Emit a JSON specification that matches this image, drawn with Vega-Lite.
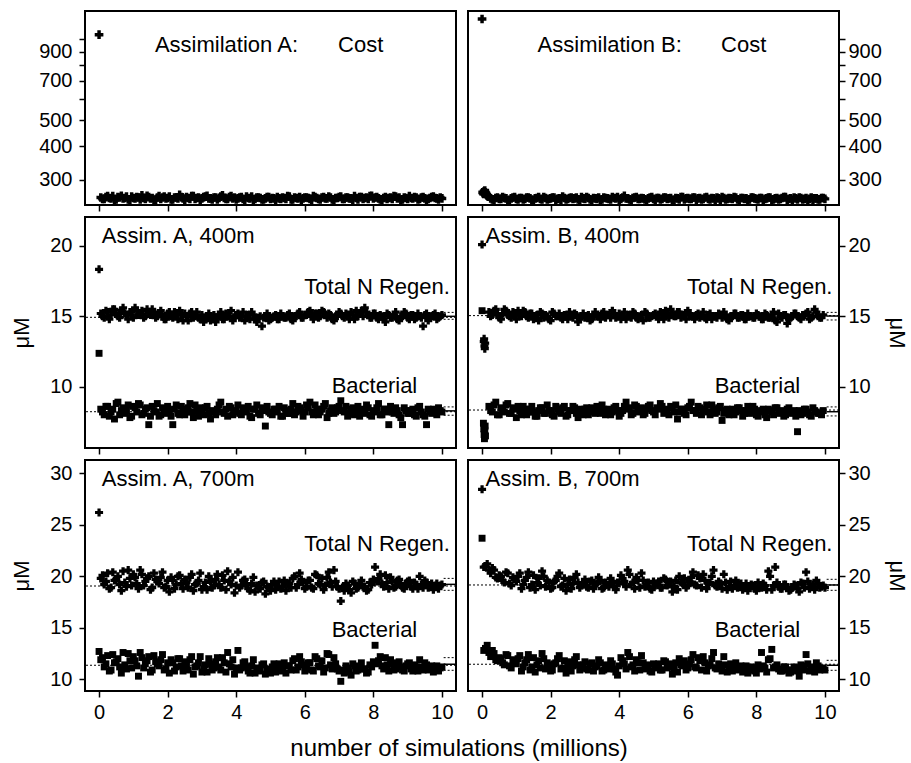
{
"$schema": "https://vega.github.io/schema/vega-lite/v6.json",
"padding": {"left": 9, "top": 10, "right": 0, "bottom": 0},
"background": "white",
"title": {"text": "number of simulations (millions)", "orient": "bottom", "anchor": "middle", "font": "Liberation Sans", "fontSize": 24, "fontWeight": "normal", "color": "black", "offset": 14},
"columns": 2,
"spacing": {"row": 3, "column": 8},
"datasets": {
"ca": [{"x":0,"y":1040},
{"x":0.05,"y":258},{"x":0.15,"y":255},{"x":0.25,"y":261},{"x":0.35,"y":256},{"x":0.45,"y":253},{"x":0.55,"y":259},{"x":0.65,"y":262},{"x":0.75,"y":257},{"x":0.85,"y":254},{"x":0.95,"y":260},
{"x":1.05,"y":256},{"x":1.15,"y":258},{"x":1.25,"y":263},{"x":1.35,"y":255},{"x":1.45,"y":259},{"x":1.55,"y":257},{"x":1.65,"y":253},{"x":1.75,"y":261},{"x":1.85,"y":258},{"x":1.95,"y":256},
{"x":2.05,"y":260},{"x":2.15,"y":254},{"x":2.25,"y":258},{"x":2.35,"y":264},{"x":2.45,"y":256},{"x":2.55,"y":259},{"x":2.65,"y":255},{"x":2.75,"y":261},{"x":2.85,"y":257},{"x":2.95,"y":253},
{"x":3.05,"y":259},{"x":3.15,"y":262},{"x":3.25,"y":256},{"x":3.35,"y":258},{"x":3.45,"y":254},{"x":3.55,"y":260},{"x":3.65,"y":257},{"x":3.75,"y":255},{"x":3.85,"y":261},{"x":3.95,"y":258},
{"x":4.05,"y":256},{"x":4.15,"y":259},{"x":4.25,"y":253},{"x":4.35,"y":257},{"x":4.45,"y":260},{"x":4.55,"y":255},{"x":4.65,"y":258},{"x":4.75,"y":254},{"x":4.85,"y":256},{"x":4.95,"y":259},
{"x":5.05,"y":257},{"x":5.15,"y":253},{"x":5.25,"y":256},{"x":5.35,"y":258},{"x":5.45,"y":255},{"x":5.55,"y":260},{"x":5.65,"y":254},{"x":5.75,"y":257},{"x":5.85,"y":259},{"x":5.95,"y":256},
{"x":6.05,"y":258},{"x":6.15,"y":255},{"x":6.25,"y":261},{"x":6.35,"y":257},{"x":6.45,"y":254},{"x":6.55,"y":259},{"x":6.65,"y":256},{"x":6.75,"y":258},{"x":6.85,"y":253},{"x":6.95,"y":257},
{"x":7.05,"y":260},{"x":7.15,"y":255},{"x":7.25,"y":258},{"x":7.35,"y":256},{"x":7.45,"y":261},{"x":7.55,"y":254},{"x":7.65,"y":259},{"x":7.75,"y":257},{"x":7.85,"y":255},{"x":7.95,"y":262},
{"x":8.05,"y":258},{"x":8.15,"y":256},{"x":8.25,"y":253},{"x":8.35,"y":259},{"x":8.45,"y":257},{"x":8.55,"y":255},{"x":8.65,"y":260},{"x":8.75,"y":258},{"x":8.85,"y":254},{"x":8.95,"y":257},
{"x":9.05,"y":261},{"x":9.15,"y":256},{"x":9.25,"y":258},{"x":9.35,"y":255},{"x":9.45,"y":259},{"x":9.55,"y":253},{"x":9.65,"y":257},{"x":9.75,"y":260},{"x":9.85,"y":256},{"x":9.95,"y":258},
{"x":0.1,"y":255},{"x":0.2,"y":259},{"x":0.3,"y":257},{"x":0.4,"y":261},{"x":0.5,"y":254},{"x":0.6,"y":258},{"x":0.7,"y":256},{"x":0.8,"y":260},{"x":0.9,"y":253},{"x":1.0,"y":257},
{"x":1.1,"y":259},{"x":1.2,"y":254},{"x":1.3,"y":257},{"x":1.4,"y":262},{"x":1.5,"y":256},{"x":1.6,"y":253},{"x":1.7,"y":258},{"x":1.8,"y":255},{"x":1.9,"y":260},{"x":2.0,"y":257},
{"x":2.1,"y":254},{"x":2.2,"y":258},{"x":2.3,"y":256},{"x":2.4,"y":259},{"x":2.5,"y":253},{"x":2.6,"y":257},{"x":2.7,"y":261},{"x":2.8,"y":255},{"x":2.9,"y":258},{"x":3.0,"y":256},
{"x":3.1,"y":260},{"x":3.2,"y":256},{"x":3.3,"y":254},{"x":3.4,"y":258},{"x":3.5,"y":257},{"x":3.6,"y":263},{"x":3.7,"y":255},{"x":3.8,"y":259},{"x":3.9,"y":256},{"x":4.0,"y":254},
{"x":4.1,"y":258},{"x":4.2,"y":255},{"x":4.3,"y":260},{"x":4.4,"y":256},{"x":4.5,"y":253},{"x":4.6,"y":258},{"x":4.7,"y":257},{"x":4.8,"y":254},{"x":4.9,"y":259},{"x":5.0,"y":255},
{"x":5.1,"y":256},{"x":5.2,"y":259},{"x":5.3,"y":255},{"x":5.4,"y":257},{"x":5.5,"y":261},{"x":5.6,"y":254},{"x":5.7,"y":258},{"x":5.8,"y":256},{"x":5.9,"y":253},{"x":6.0,"y":258},
{"x":6.1,"y":257},{"x":6.2,"y":253},{"x":6.3,"y":259},{"x":6.4,"y":255},{"x":6.5,"y":258},{"x":6.6,"y":256},{"x":6.7,"y":260},{"x":6.8,"y":254},{"x":6.9,"y":257},{"x":7.0,"y":259},
{"x":7.1,"y":255},{"x":7.2,"y":258},{"x":7.3,"y":256},{"x":7.4,"y":253},{"x":7.5,"y":257},{"x":7.6,"y":259},{"x":7.7,"y":255},{"x":7.8,"y":258},{"x":7.9,"y":261},{"x":8.0,"y":256},
{"x":8.1,"y":259},{"x":8.2,"y":254},{"x":8.3,"y":257},{"x":8.4,"y":255},{"x":8.5,"y":258},{"x":8.6,"y":261},{"x":8.7,"y":256},{"x":8.8,"y":253},{"x":8.9,"y":258},{"x":9.0,"y":255},
{"x":9.1,"y":257},{"x":9.2,"y":259},{"x":9.3,"y":254},{"x":9.4,"y":258},{"x":9.5,"y":256},{"x":9.6,"y":255},{"x":9.7,"y":259},{"x":9.8,"y":257},{"x":9.9,"y":254},{"x":10.0,"y":256}],
"cb": [{"x":0,"y":1190},{"x":0.03,"y":268},{"x":0.06,"y":272},{"x":0.09,"y":270},{"x":0.12,"y":266},{"x":0.15,"y":262},
{"x":0.02,"y":270},{"x":0.05,"y":266},{"x":0.08,"y":274},{"x":0.11,"y":268},{"x":0.14,"y":264},{"x":0.18,"y":260},
{"x":0.25,"y":256},{"x":0.35,"y":253},{"x":0.45,"y":258},{"x":0.55,"y":255},{"x":0.65,"y":257},{"x":0.75,"y":252},{"x":0.85,"y":256},{"x":0.95,"y":259},{"x":1.05,"y":254},{"x":1.15,"y":257},
{"x":1.25,"y":255},{"x":1.35,"y":258},{"x":1.45,"y":253},{"x":1.55,"y":256},{"x":1.65,"y":259},{"x":1.75,"y":254},{"x":1.85,"y":257},{"x":1.95,"y":255},{"x":2.05,"y":258},{"x":2.15,"y":253},
{"x":2.25,"y":256},{"x":2.35,"y":260},{"x":2.45,"y":254},{"x":2.55,"y":257},{"x":2.65,"y":255},{"x":2.75,"y":258},{"x":2.85,"y":252},{"x":2.95,"y":256},{"x":3.05,"y":259},{"x":3.15,"y":254},
{"x":3.25,"y":257},{"x":3.35,"y":255},{"x":3.45,"y":253},{"x":3.55,"y":258},{"x":3.65,"y":256},{"x":3.75,"y":254},{"x":3.85,"y":257},{"x":3.95,"y":259},{"x":4.05,"y":255},{"x":4.15,"y":262},
{"x":4.25,"y":256},{"x":4.35,"y":253},{"x":4.45,"y":258},{"x":4.55,"y":255},{"x":4.65,"y":257},{"x":4.75,"y":254},{"x":4.85,"y":256},{"x":4.95,"y":259},{"x":5.05,"y":253},{"x":5.15,"y":257},
{"x":5.25,"y":255},{"x":5.35,"y":258},{"x":5.45,"y":256},{"x":5.55,"y":253},{"x":5.65,"y":257},{"x":5.75,"y":254},{"x":5.85,"y":259},{"x":5.95,"y":256},{"x":6.05,"y":255},{"x":6.15,"y":258},
{"x":6.25,"y":253},{"x":6.35,"y":257},{"x":6.45,"y":255},{"x":6.55,"y":259},{"x":6.65,"y":254},{"x":6.75,"y":256},{"x":6.85,"y":258},{"x":6.95,"y":253},{"x":7.05,"y":257},{"x":7.15,"y":255},
{"x":7.25,"y":256},{"x":7.35,"y":259},{"x":7.45,"y":254},{"x":7.55,"y":257},{"x":7.65,"y":255},{"x":7.75,"y":253},{"x":7.85,"y":258},{"x":7.95,"y":256},{"x":8.05,"y":254},{"x":8.15,"y":257},
{"x":8.25,"y":255},{"x":8.35,"y":258},{"x":8.45,"y":253},{"x":8.55,"y":256},{"x":8.65,"y":254},{"x":8.75,"y":257},{"x":8.85,"y":259},{"x":8.95,"y":255},{"x":9.05,"y":253},{"x":9.15,"y":256},
{"x":9.25,"y":258},{"x":9.35,"y":254},{"x":9.45,"y":257},{"x":9.55,"y":255},{"x":9.65,"y":253},{"x":9.75,"y":256},{"x":9.85,"y":254},{"x":9.95,"y":257},
{"x":0.3,"y":254},{"x":0.4,"y":257},{"x":0.5,"y":255},{"x":0.6,"y":259},{"x":0.7,"y":256},{"x":0.8,"y":253},{"x":0.9,"y":258},{"x":1.0,"y":255},{"x":1.1,"y":257},{"x":1.2,"y":254},
{"x":1.3,"y":258},{"x":1.4,"y":256},{"x":1.5,"y":253},{"x":1.6,"y":257},{"x":1.7,"y":255},{"x":1.8,"y":259},{"x":1.9,"y":254},{"x":2.0,"y":256},{"x":2.1,"y":258},{"x":2.2,"y":255},
{"x":2.3,"y":253},{"x":2.4,"y":257},{"x":2.5,"y":255},{"x":2.6,"y":258},{"x":2.7,"y":256},{"x":2.8,"y":254},{"x":2.9,"y":259},{"x":3.0,"y":255},{"x":3.1,"y":257},{"x":3.2,"y":253},
{"x":3.3,"y":256},{"x":3.4,"y":258},{"x":3.5,"y":254},{"x":3.6,"y":257},{"x":3.7,"y":255},{"x":3.8,"y":259},{"x":3.9,"y":256},{"x":4.0,"y":253},{"x":4.1,"y":258},{"x":4.2,"y":256},
{"x":4.3,"y":254},{"x":4.4,"y":257},{"x":4.5,"y":259},{"x":4.6,"y":255},{"x":4.7,"y":256},{"x":4.8,"y":253},{"x":4.9,"y":258},{"x":5.0,"y":255},{"x":5.1,"y":257},{"x":5.2,"y":254},
{"x":5.3,"y":258},{"x":5.4,"y":255},{"x":5.5,"y":257},{"x":5.6,"y":253},{"x":5.7,"y":256},{"x":5.8,"y":259},{"x":5.9,"y":254},{"x":6.0,"y":257},{"x":6.1,"y":255},{"x":6.2,"y":258},
{"x":6.3,"y":256},{"x":6.4,"y":254},{"x":6.5,"y":258},{"x":6.6,"y":255},{"x":6.7,"y":257},{"x":6.8,"y":253},{"x":6.9,"y":256},{"x":7.0,"y":259},{"x":7.1,"y":254},{"x":7.2,"y":257},
{"x":7.3,"y":255},{"x":7.4,"y":258},{"x":7.5,"y":253},{"x":7.6,"y":257},{"x":7.7,"y":256},{"x":7.8,"y":254},{"x":7.9,"y":258},{"x":8.0,"y":255},{"x":8.1,"y":257},{"x":8.2,"y":253},
{"x":8.3,"y":256},{"x":8.4,"y":258},{"x":8.5,"y":254},{"x":8.6,"y":257},{"x":8.7,"y":255},{"x":8.8,"y":259},{"x":8.9,"y":253},{"x":9.0,"y":256},{"x":9.1,"y":258},{"x":9.2,"y":254},
{"x":9.3,"y":257},{"x":9.4,"y":255},{"x":9.5,"y":253},{"x":9.6,"y":258},{"x":9.7,"y":256},{"x":9.8,"y":254},{"x":9.9,"y":257},{"x":10.0,"y":255}],
"a4t": [{"x":0,"y":18.34},
{"x":0.05,"y":15.2},{"x":0.15,"y":14.9},{"x":0.25,"y":15.3},{"x":0.35,"y":15.1},{"x":0.45,"y":15.5},{"x":0.55,"y":15.0},{"x":0.65,"y":15.4},{"x":0.75,"y":15.2},{"x":0.85,"y":14.8},{"x":0.95,"y":15.3},
{"x":1.05,"y":15.6},{"x":1.15,"y":15.1},{"x":1.25,"y":15.4},{"x":1.35,"y":15.0},{"x":1.45,"y":15.3},{"x":1.55,"y":15.5},{"x":1.65,"y":14.9},{"x":1.75,"y":15.2},{"x":1.85,"y":15.0},{"x":1.95,"y":14.8},
{"x":2.05,"y":15.3},{"x":2.15,"y":14.9},{"x":2.25,"y":15.1},{"x":2.35,"y":15.4},{"x":2.45,"y":14.7},{"x":2.55,"y":15.0},{"x":2.65,"y":15.2},{"x":2.75,"y":14.9},{"x":2.85,"y":15.3},{"x":2.95,"y":14.8},
{"x":3.05,"y":14.6},{"x":3.15,"y":15.0},{"x":3.25,"y":14.7},{"x":3.35,"y":15.1},{"x":3.45,"y":14.9},{"x":3.55,"y":15.3},{"x":3.65,"y":14.8},{"x":3.75,"y":15.0},{"x":3.85,"y":15.4},{"x":3.95,"y":14.9},
{"x":4.05,"y":15.2},{"x":4.15,"y":15.0},{"x":4.25,"y":14.7},{"x":4.35,"y":15.1},{"x":4.45,"y":15.3},{"x":4.55,"y":14.8},{"x":4.65,"y":14.9},{"x":4.75,"y":14.3},{"x":4.85,"y":15.0},{"x":4.95,"y":14.7},
{"x":5.05,"y":14.9},{"x":5.15,"y":15.1},{"x":5.25,"y":14.8},{"x":5.35,"y":15.0},{"x":5.45,"y":14.9},{"x":5.55,"y":15.2},{"x":5.65,"y":14.7},{"x":5.75,"y":15.0},{"x":5.85,"y":15.3},{"x":5.95,"y":14.9},
{"x":6.05,"y":15.1},{"x":6.15,"y":15.4},{"x":6.25,"y":14.8},{"x":6.35,"y":15.2},{"x":6.45,"y":15.0},{"x":6.55,"y":15.3},{"x":6.65,"y":14.9},{"x":6.75,"y":15.1},{"x":6.85,"y":14.7},{"x":6.95,"y":15.0},
{"x":7.05,"y":15.2},{"x":7.15,"y":14.9},{"x":7.25,"y":15.1},{"x":7.35,"y":15.3},{"x":7.45,"y":14.8},{"x":7.55,"y":15.0},{"x":7.65,"y":15.4},{"x":7.75,"y":15.6},{"x":7.85,"y":15.1},{"x":7.95,"y":14.9},
{"x":8.05,"y":15.2},{"x":8.15,"y":14.8},{"x":8.25,"y":15.0},{"x":8.35,"y":14.6},{"x":8.45,"y":15.1},{"x":8.55,"y":14.9},{"x":8.65,"y":15.3},{"x":8.75,"y":14.7},{"x":8.85,"y":15.0},{"x":8.95,"y":15.2},
{"x":9.05,"y":14.8},{"x":9.15,"y":15.1},{"x":9.25,"y":14.9},{"x":9.35,"y":15.0},{"x":9.45,"y":14.3},{"x":9.55,"y":15.2},{"x":9.65,"y":14.9},{"x":9.75,"y":15.1},{"x":9.85,"y":14.8},{"x":9.95,"y":15.0},
{"x":0.1,"y":15.0},{"x":0.2,"y":15.4},{"x":0.3,"y":14.8},{"x":0.4,"y":15.5},{"x":0.5,"y":15.2},{"x":0.6,"y":14.9},{"x":0.7,"y":15.6},{"x":0.8,"y":15.1},{"x":0.9,"y":15.3},{"x":1.0,"y":14.9},
{"x":1.1,"y":15.4},{"x":1.2,"y":15.2},{"x":1.3,"y":14.9},{"x":1.4,"y":15.5},{"x":1.5,"y":15.1},{"x":1.6,"y":15.3},{"x":1.7,"y":15.0},{"x":1.8,"y":15.4},{"x":1.9,"y":14.8},{"x":2.0,"y":15.2},
{"x":2.1,"y":15.0},{"x":2.2,"y":15.3},{"x":2.3,"y":14.8},{"x":2.4,"y":15.1},{"x":2.5,"y":15.2},{"x":2.6,"y":14.7},{"x":2.7,"y":15.3},{"x":2.8,"y":15.0},{"x":2.9,"y":14.9},{"x":3.0,"y":15.1},
{"x":3.1,"y":14.8},{"x":3.2,"y":15.2},{"x":3.3,"y":14.9},{"x":3.4,"y":14.6},{"x":3.5,"y":15.1},{"x":3.6,"y":14.8},{"x":3.7,"y":15.2},{"x":3.8,"y":15.0},{"x":3.9,"y":14.7},{"x":4.0,"y":15.1},
{"x":4.1,"y":14.9},{"x":4.2,"y":15.3},{"x":4.3,"y":15.0},{"x":4.4,"y":14.8},{"x":4.5,"y":15.1},{"x":4.6,"y":14.6},{"x":4.7,"y":15.0},{"x":4.8,"y":14.9},{"x":4.9,"y":15.2},{"x":5.0,"y":14.8},
{"x":5.1,"y":15.0},{"x":5.2,"y":14.8},{"x":5.3,"y":15.2},{"x":5.4,"y":14.9},{"x":5.5,"y":15.1},{"x":5.6,"y":14.8},{"x":5.7,"y":15.0},{"x":5.8,"y":15.2},{"x":5.9,"y":14.9},{"x":6.0,"y":15.1},
{"x":6.1,"y":15.3},{"x":6.2,"y":15.0},{"x":6.3,"y":15.2},{"x":6.4,"y":14.9},{"x":6.5,"y":15.4},{"x":6.6,"y":15.1},{"x":6.7,"y":15.2},{"x":6.8,"y":14.8},{"x":6.9,"y":15.0},{"x":7.0,"y":15.3},
{"x":7.1,"y":15.0},{"x":7.2,"y":15.2},{"x":7.3,"y":14.8},{"x":7.4,"y":15.1},{"x":7.5,"y":15.4},{"x":7.6,"y":15.2},{"x":7.7,"y":15.0},{"x":7.8,"y":15.3},{"x":7.9,"y":14.9},{"x":8.0,"y":15.2},
{"x":8.1,"y":14.9},{"x":8.2,"y":15.1},{"x":8.3,"y":14.8},{"x":8.4,"y":15.2},{"x":8.5,"y":14.9},{"x":8.6,"y":15.1},{"x":8.7,"y":14.8},{"x":8.8,"y":15.0},{"x":8.9,"y":15.3},{"x":9.0,"y":14.9},
{"x":9.1,"y":15.1},{"x":9.2,"y":14.8},{"x":9.3,"y":15.2},{"x":9.4,"y":14.9},{"x":9.5,"y":15.1},{"x":9.6,"y":14.7},{"x":9.7,"y":15.0},{"x":9.8,"y":15.2},{"x":9.9,"y":14.9},{"x":10.0,"y":15.1}],
"a4b": [{"x":0,"y":12.37},
{"x":0.05,"y":8.4},{"x":0.15,"y":8.0},{"x":0.25,"y":8.6},{"x":0.35,"y":8.2},{"x":0.45,"y":7.7},{"x":0.55,"y":8.9},{"x":0.65,"y":8.3},{"x":0.75,"y":8.1},{"x":0.85,"y":8.7},{"x":0.95,"y":7.9},
{"x":1.05,"y":8.5},{"x":1.15,"y":8.8},{"x":1.25,"y":8.0},{"x":1.35,"y":8.4},{"x":1.45,"y":7.3},{"x":1.55,"y":8.6},{"x":1.65,"y":8.2},{"x":1.75,"y":7.9},{"x":1.85,"y":8.5},{"x":1.95,"y":8.1},
{"x":2.05,"y":8.3},{"x":2.15,"y":7.3},{"x":2.25,"y":8.7},{"x":2.35,"y":8.0},{"x":2.45,"y":8.4},{"x":2.55,"y":8.2},{"x":2.65,"y":8.8},{"x":2.75,"y":7.8},{"x":2.85,"y":8.3},{"x":2.95,"y":8.5},
{"x":3.05,"y":8.0},{"x":3.15,"y":8.6},{"x":3.25,"y":7.7},{"x":3.35,"y":8.2},{"x":3.45,"y":8.4},{"x":3.55,"y":8.9},{"x":3.65,"y":8.1},{"x":3.75,"y":7.9},{"x":3.85,"y":8.5},{"x":3.95,"y":8.2},
{"x":4.05,"y":8.7},{"x":4.15,"y":8.0},{"x":4.25,"y":8.3},{"x":4.35,"y":8.6},{"x":4.45,"y":7.8},{"x":4.55,"y":8.4},{"x":4.65,"y":8.1},{"x":4.75,"y":8.5},{"x":4.85,"y":7.2},{"x":4.95,"y":8.2},
{"x":5.05,"y":8.0},{"x":5.15,"y":8.4},{"x":5.25,"y":8.6},{"x":5.35,"y":7.9},{"x":5.45,"y":8.3},{"x":5.55,"y":8.1},{"x":5.65,"y":8.8},{"x":5.75,"y":8.2},{"x":5.85,"y":8.5},{"x":5.95,"y":7.9},
{"x":6.05,"y":8.7},{"x":6.15,"y":8.9},{"x":6.25,"y":8.0},{"x":6.35,"y":8.4},{"x":6.45,"y":8.2},{"x":6.55,"y":8.6},{"x":6.65,"y":7.8},{"x":6.75,"y":8.3},{"x":6.85,"y":8.1},{"x":6.95,"y":8.5},
{"x":7.05,"y":9.0},{"x":7.15,"y":8.2},{"x":7.25,"y":7.9},{"x":7.35,"y":8.4},{"x":7.45,"y":8.0},{"x":7.55,"y":8.6},{"x":7.65,"y":8.3},{"x":7.75,"y":8.1},{"x":7.85,"y":8.5},{"x":7.95,"y":7.9},
{"x":8.05,"y":8.2},{"x":8.15,"y":8.8},{"x":8.25,"y":8.0},{"x":8.35,"y":8.4},{"x":8.45,"y":7.3},{"x":8.55,"y":8.2},{"x":8.65,"y":8.5},{"x":8.75,"y":8.0},{"x":8.85,"y":7.3},{"x":8.95,"y":8.3},
{"x":9.05,"y":8.1},{"x":9.15,"y":8.4},{"x":9.25,"y":7.9},{"x":9.35,"y":8.6},{"x":9.45,"y":8.0},{"x":9.55,"y":7.3},{"x":9.65,"y":8.2},{"x":9.75,"y":8.4},{"x":9.85,"y":8.0},{"x":9.95,"y":8.3},
{"x":0.1,"y":8.2},{"x":0.2,"y":8.6},{"x":0.3,"y":7.9},{"x":0.4,"y":8.4},{"x":0.5,"y":8.8},{"x":0.6,"y":8.0},{"x":0.7,"y":8.5},{"x":0.8,"y":8.3},{"x":0.9,"y":7.8},{"x":1.0,"y":8.6},
{"x":1.1,"y":8.2},{"x":1.2,"y":8.7},{"x":1.3,"y":8.1},{"x":1.4,"y":8.5},{"x":1.5,"y":7.9},{"x":1.6,"y":8.3},{"x":1.7,"y":8.8},{"x":1.8,"y":8.0},{"x":1.9,"y":8.4},{"x":2.0,"y":8.6},
{"x":2.1,"y":7.9},{"x":2.2,"y":8.4},{"x":2.3,"y":8.1},{"x":2.4,"y":8.6},{"x":2.5,"y":8.0},{"x":2.6,"y":8.5},{"x":2.7,"y":8.2},{"x":2.8,"y":8.7},{"x":2.9,"y":7.9},{"x":3.0,"y":8.3},
{"x":3.1,"y":8.5},{"x":3.2,"y":8.1},{"x":3.3,"y":8.3},{"x":3.4,"y":8.0},{"x":3.5,"y":8.7},{"x":3.6,"y":8.2},{"x":3.7,"y":8.4},{"x":3.8,"y":8.6},{"x":3.9,"y":8.0},{"x":4.0,"y":8.3},
{"x":4.1,"y":8.1},{"x":4.2,"y":8.5},{"x":4.3,"y":8.2},{"x":4.4,"y":7.9},{"x":4.5,"y":8.4},{"x":4.6,"y":8.7},{"x":4.7,"y":8.0},{"x":4.8,"y":8.3},{"x":4.9,"y":8.6},{"x":5.0,"y":8.1},
{"x":5.1,"y":8.4},{"x":5.2,"y":8.2},{"x":5.3,"y":7.9},{"x":5.4,"y":8.5},{"x":5.5,"y":8.1},{"x":5.6,"y":8.4},{"x":5.7,"y":8.0},{"x":5.8,"y":8.6},{"x":5.9,"y":8.3},{"x":6.0,"y":8.2},
{"x":6.1,"y":8.5},{"x":6.2,"y":8.2},{"x":6.3,"y":8.7},{"x":6.4,"y":8.0},{"x":6.5,"y":8.4},{"x":6.6,"y":8.8},{"x":6.7,"y":8.1},{"x":6.8,"y":8.5},{"x":6.9,"y":8.2},{"x":7.0,"y":8.6},
{"x":7.1,"y":8.3},{"x":7.2,"y":8.6},{"x":7.3,"y":8.1},{"x":7.4,"y":8.5},{"x":7.5,"y":8.2},{"x":7.6,"y":7.9},{"x":7.7,"y":8.4},{"x":7.8,"y":8.7},{"x":7.9,"y":8.0},{"x":8.0,"y":8.3},
{"x":8.1,"y":8.5},{"x":8.2,"y":8.0},{"x":8.3,"y":8.4},{"x":8.4,"y":8.2},{"x":8.5,"y":8.6},{"x":8.6,"y":8.1},{"x":8.7,"y":8.3},{"x":8.8,"y":7.8},{"x":8.9,"y":8.5},{"x":9.0,"y":8.1},
{"x":9.1,"y":8.3},{"x":9.2,"y":8.0},{"x":9.3,"y":8.5},{"x":9.4,"y":8.2},{"x":9.5,"y":7.9},{"x":9.6,"y":8.4},{"x":9.7,"y":8.1},{"x":9.8,"y":8.3},{"x":9.9,"y":8.5},{"x":10.0,"y":8.2}],
"b4t": [{"x":0,"y":20.1},{"x":0.05,"y":13.2},{"x":0.06,"y":13.4},{"x":0.07,"y":12.9},{"x":0.08,"y":12.7},{"x":0.09,"y":13.1},
{"x":0.2,"y":15.3},{"x":0.3,"y":15.1},{"x":0.4,"y":15.5},{"x":0.5,"y":14.9},{"x":0.6,"y":15.2},{"x":0.7,"y":15.4},{"x":0.8,"y":15.0},{"x":0.9,"y":15.3},{"x":1.0,"y":14.8},{"x":1.1,"y":15.1},
{"x":1.2,"y":15.4},{"x":1.3,"y":15.0},{"x":1.4,"y":15.2},{"x":1.5,"y":14.8},{"x":1.6,"y":15.1},{"x":1.7,"y":15.3},{"x":1.8,"y":14.9},{"x":1.9,"y":15.0},{"x":2.0,"y":14.7},{"x":2.1,"y":15.2},
{"x":2.2,"y":15.0},{"x":2.3,"y":14.9},{"x":2.4,"y":15.1},{"x":2.5,"y":14.8},{"x":2.6,"y":15.0},{"x":2.7,"y":15.2},{"x":2.8,"y":14.6},{"x":2.9,"y":15.0},{"x":3.0,"y":14.9},{"x":3.1,"y":15.1},
{"x":3.2,"y":14.8},{"x":3.3,"y":15.3},{"x":3.4,"y":15.0},{"x":3.5,"y":15.2},{"x":3.6,"y":14.9},{"x":3.7,"y":15.1},{"x":3.8,"y":15.4},{"x":3.9,"y":14.9},{"x":4.0,"y":15.2},{"x":4.1,"y":15.0},
{"x":4.2,"y":14.8},{"x":4.3,"y":15.1},{"x":4.4,"y":15.3},{"x":4.5,"y":14.9},{"x":4.6,"y":15.0},{"x":4.7,"y":14.7},{"x":4.8,"y":15.2},{"x":4.9,"y":14.9},{"x":5.0,"y":15.1},{"x":5.1,"y":15.0},
{"x":5.2,"y":15.3},{"x":5.3,"y":14.8},{"x":5.4,"y":15.2},{"x":5.5,"y":15.5},{"x":5.6,"y":15.0},{"x":5.7,"y":15.3},{"x":5.8,"y":14.9},{"x":5.9,"y":15.1},{"x":6.0,"y":15.4},{"x":6.1,"y":15.0},
{"x":6.2,"y":14.8},{"x":6.3,"y":15.2},{"x":6.4,"y":15.0},{"x":6.5,"y":14.9},{"x":6.6,"y":15.1},{"x":6.7,"y":14.8},{"x":6.8,"y":15.0},{"x":6.9,"y":15.2},{"x":7.0,"y":14.9},{"x":7.1,"y":15.1},
{"x":7.2,"y":14.7},{"x":7.3,"y":15.0},{"x":7.4,"y":15.2},{"x":7.5,"y":14.9},{"x":7.6,"y":15.1},{"x":7.7,"y":14.8},{"x":7.8,"y":15.0},{"x":7.9,"y":14.9},{"x":8.0,"y":15.2},{"x":8.1,"y":15.0},
{"x":8.2,"y":14.8},{"x":8.3,"y":15.1},{"x":8.4,"y":14.9},{"x":8.5,"y":15.3},{"x":8.6,"y":14.6},{"x":8.7,"y":15.0},{"x":8.8,"y":15.1},{"x":8.9,"y":14.5},{"x":9.0,"y":14.9},{"x":9.1,"y":15.2},
{"x":9.2,"y":15.0},{"x":9.3,"y":14.8},{"x":9.4,"y":15.1},{"x":9.5,"y":15.3},{"x":9.6,"y":14.9},{"x":9.7,"y":15.5},{"x":9.8,"y":15.0},{"x":9.9,"y":14.9},
{"x":0.25,"y":15.0},{"x":0.35,"y":15.4},{"x":0.45,"y":15.2},{"x":0.55,"y":14.8},{"x":0.65,"y":15.5},{"x":0.75,"y":15.1},{"x":0.85,"y":14.9},{"x":0.95,"y":15.2},{"x":1.05,"y":15.4},{"x":1.15,"y":15.0},
{"x":1.25,"y":15.3},{"x":1.35,"y":14.9},{"x":1.45,"y":15.2},{"x":1.55,"y":15.0},{"x":1.65,"y":14.7},{"x":1.75,"y":15.2},{"x":1.85,"y":15.1},{"x":1.95,"y":14.8},{"x":2.05,"y":15.3},{"x":2.15,"y":15.0},
{"x":2.25,"y":15.2},{"x":2.35,"y":14.8},{"x":2.45,"y":15.0},{"x":2.55,"y":15.3},{"x":2.65,"y":14.9},{"x":2.75,"y":15.1},{"x":2.85,"y":14.8},{"x":2.95,"y":15.2},{"x":3.05,"y":15.0},{"x":3.15,"y":14.7},
{"x":3.25,"y":15.1},{"x":3.35,"y":15.0},{"x":3.45,"y":14.8},{"x":3.55,"y":15.3},{"x":3.65,"y":15.1},{"x":3.75,"y":14.9},{"x":3.85,"y":15.2},{"x":3.95,"y":15.0},{"x":4.05,"y":14.8},{"x":4.15,"y":15.3},
{"x":4.25,"y":15.0},{"x":4.35,"y":14.9},{"x":4.45,"y":15.2},{"x":4.55,"y":14.8},{"x":4.65,"y":15.1},{"x":4.75,"y":15.3},{"x":4.85,"y":14.9},{"x":4.95,"y":15.0},{"x":5.05,"y":15.2},{"x":5.15,"y":14.8},
{"x":5.25,"y":15.1},{"x":5.35,"y":15.4},{"x":5.45,"y":14.9},{"x":5.55,"y":15.2},{"x":5.65,"y":15.0},{"x":5.75,"y":15.3},{"x":5.85,"y":15.1},{"x":5.95,"y":14.8},{"x":6.05,"y":15.2},{"x":6.15,"y":15.0},
{"x":6.25,"y":15.1},{"x":6.35,"y":14.9},{"x":6.45,"y":15.3},{"x":6.55,"y":14.8},{"x":6.65,"y":15.2},{"x":6.75,"y":15.0},{"x":6.85,"y":14.9},{"x":6.95,"y":15.1},{"x":7.05,"y":15.3},{"x":7.15,"y":14.8},
{"x":7.25,"y":15.0},{"x":7.35,"y":15.2},{"x":7.45,"y":14.9},{"x":7.55,"y":15.1},{"x":7.65,"y":14.8},{"x":7.75,"y":15.2},{"x":7.85,"y":15.0},{"x":7.95,"y":14.9},{"x":8.05,"y":15.1},{"x":8.15,"y":14.8},
{"x":8.25,"y":15.2},{"x":8.35,"y":14.9},{"x":8.45,"y":15.0},{"x":8.55,"y":14.7},{"x":8.65,"y":15.2},{"x":8.75,"y":14.9},{"x":8.85,"y":15.1},{"x":8.95,"y":14.8},{"x":9.05,"y":15.0},{"x":9.15,"y":15.2},
{"x":9.25,"y":14.9},{"x":9.35,"y":15.1},{"x":9.45,"y":15.2},{"x":9.55,"y":14.8},{"x":9.65,"y":15.0},{"x":9.75,"y":15.3},{"x":9.85,"y":14.9},{"x":9.95,"y":15.1}],
"b4b": [{"x":0,"y":15.4},{"x":0.04,"y":7.4},{"x":0.05,"y":7.0},{"x":0.06,"y":6.6},{"x":0.07,"y":6.3},{"x":0.08,"y":6.9},{"x":0.09,"y":7.2},{"x":0.1,"y":6.5},
{"x":0.2,"y":8.6},{"x":0.3,"y":8.2},{"x":0.4,"y":8.9},{"x":0.5,"y":8.0},{"x":0.6,"y":8.4},{"x":0.7,"y":8.7},{"x":0.8,"y":8.1},{"x":0.9,"y":8.5},{"x":1.0,"y":7.8},{"x":1.1,"y":8.3},
{"x":1.2,"y":8.6},{"x":1.3,"y":8.0},{"x":1.4,"y":8.4},{"x":1.5,"y":8.2},{"x":1.6,"y":7.9},{"x":1.7,"y":8.5},{"x":1.8,"y":8.1},{"x":1.9,"y":8.7},{"x":2.0,"y":8.3},{"x":2.1,"y":7.9},
{"x":2.2,"y":8.4},{"x":2.3,"y":8.1},{"x":2.4,"y":8.6},{"x":2.5,"y":8.0},{"x":2.6,"y":8.3},{"x":2.7,"y":8.5},{"x":2.8,"y":7.8},{"x":2.9,"y":8.2},{"x":3.0,"y":8.4},{"x":3.1,"y":8.0},
{"x":3.2,"y":8.5},{"x":3.3,"y":8.1},{"x":3.4,"y":8.3},{"x":3.5,"y":8.7},{"x":3.6,"y":8.0},{"x":3.7,"y":8.4},{"x":3.8,"y":8.2},{"x":3.9,"y":8.6},{"x":4.0,"y":7.9},{"x":4.1,"y":8.3},
{"x":4.2,"y":8.9},{"x":4.3,"y":8.5},{"x":4.4,"y":8.1},{"x":4.5,"y":8.6},{"x":4.6,"y":8.3},{"x":4.7,"y":8.0},{"x":4.8,"y":8.4},{"x":4.9,"y":8.7},{"x":5.0,"y":8.2},{"x":5.1,"y":8.5},
{"x":5.2,"y":8.8},{"x":5.3,"y":8.1},{"x":5.4,"y":8.4},{"x":5.5,"y":8.6},{"x":5.6,"y":8.2},{"x":5.7,"y":7.7},{"x":5.8,"y":8.4},{"x":5.9,"y":8.1},{"x":6.0,"y":8.5},{"x":6.1,"y":8.9},
{"x":6.2,"y":8.3},{"x":6.3,"y":8.6},{"x":6.4,"y":8.0},{"x":6.5,"y":8.4},{"x":6.6,"y":8.2},{"x":6.7,"y":8.7},{"x":6.8,"y":8.1},{"x":6.9,"y":8.5},{"x":7.0,"y":7.6},{"x":7.1,"y":8.3},
{"x":7.2,"y":8.0},{"x":7.3,"y":8.4},{"x":7.4,"y":8.2},{"x":7.5,"y":8.5},{"x":7.6,"y":7.9},{"x":7.7,"y":8.3},{"x":7.8,"y":8.1},{"x":7.9,"y":8.6},{"x":8.0,"y":8.0},{"x":8.1,"y":8.2},
{"x":8.2,"y":8.4},{"x":8.3,"y":7.8},{"x":8.4,"y":8.3},{"x":8.5,"y":8.0},{"x":8.6,"y":8.5},{"x":8.7,"y":8.2},{"x":8.8,"y":7.9},{"x":8.9,"y":8.4},{"x":9.0,"y":8.1},{"x":9.1,"y":8.3},
{"x":9.2,"y":6.8},{"x":9.3,"y":8.0},{"x":9.4,"y":8.4},{"x":9.5,"y":8.2},{"x":9.6,"y":7.9},{"x":9.7,"y":8.3},{"x":9.8,"y":8.1},{"x":9.9,"y":8.0},
{"x":0.25,"y":8.3},{"x":0.35,"y":8.7},{"x":0.45,"y":8.0},{"x":0.55,"y":8.5},{"x":0.65,"y":8.2},{"x":0.75,"y":8.8},{"x":0.85,"y":8.1},{"x":0.95,"y":8.4},{"x":1.05,"y":8.6},{"x":1.15,"y":8.0},
{"x":1.25,"y":8.4},{"x":1.35,"y":8.2},{"x":1.45,"y":8.6},{"x":1.55,"y":7.9},{"x":1.65,"y":8.3},{"x":1.75,"y":8.5},{"x":1.85,"y":8.1},{"x":1.95,"y":8.3},{"x":2.05,"y":8.0},{"x":2.15,"y":8.6},
{"x":2.25,"y":8.2},{"x":2.35,"y":8.5},{"x":2.45,"y":7.9},{"x":2.55,"y":8.3},{"x":2.65,"y":8.6},{"x":2.75,"y":8.1},{"x":2.85,"y":8.4},{"x":2.95,"y":8.0},{"x":3.05,"y":8.5},{"x":3.15,"y":8.2},
{"x":3.25,"y":8.3},{"x":3.35,"y":8.6},{"x":3.45,"y":8.1},{"x":3.55,"y":8.4},{"x":3.65,"y":8.2},{"x":3.75,"y":8.0},{"x":3.85,"y":8.5},{"x":3.95,"y":8.3},{"x":4.05,"y":8.1},{"x":4.15,"y":8.6},
{"x":4.25,"y":8.4},{"x":4.35,"y":8.0},{"x":4.45,"y":8.7},{"x":4.55,"y":8.2},{"x":4.65,"y":8.5},{"x":4.75,"y":8.1},{"x":4.85,"y":8.6},{"x":4.95,"y":8.3},{"x":5.05,"y":8.0},{"x":5.15,"y":8.4},
{"x":5.25,"y":8.6},{"x":5.35,"y":8.3},{"x":5.45,"y":8.0},{"x":5.55,"y":8.5},{"x":5.65,"y":8.7},{"x":5.75,"y":8.2},{"x":5.85,"y":8.4},{"x":5.95,"y":8.0},{"x":6.05,"y":8.6},{"x":6.15,"y":8.3},
{"x":6.25,"y":8.1},{"x":6.35,"y":8.5},{"x":6.45,"y":8.3},{"x":6.55,"y":8.7},{"x":6.65,"y":8.0},{"x":6.75,"y":8.4},{"x":6.85,"y":8.2},{"x":6.95,"y":8.6},{"x":7.05,"y":8.1},{"x":7.15,"y":8.4},
{"x":7.25,"y":8.2},{"x":7.35,"y":8.0},{"x":7.45,"y":8.5},{"x":7.55,"y":8.3},{"x":7.65,"y":8.1},{"x":7.75,"y":8.6},{"x":7.85,"y":8.2},{"x":7.95,"y":8.4},{"x":8.05,"y":7.9},{"x":8.15,"y":8.3},
{"x":8.25,"y":8.0},{"x":8.35,"y":8.4},{"x":8.45,"y":8.2},{"x":8.55,"y":8.5},{"x":8.65,"y":8.1},{"x":8.75,"y":8.3},{"x":8.85,"y":8.0},{"x":8.95,"y":8.5},{"x":9.05,"y":8.2},{"x":9.15,"y":7.9},
{"x":9.25,"y":8.3},{"x":9.35,"y":8.1},{"x":9.45,"y":8.4},{"x":9.55,"y":8.0},{"x":9.65,"y":8.5},{"x":9.75,"y":8.2},{"x":9.85,"y":8.1},{"x":9.95,"y":8.3}],
"a7t": [{"x":0,"y":26.2},
{"x":0.05,"y":19.8},{"x":0.15,"y":19.2},{"x":0.25,"y":20.3},{"x":0.35,"y":18.9},{"x":0.45,"y":19.6},{"x":0.55,"y":20.0},{"x":0.65,"y":18.6},{"x":0.75,"y":19.4},{"x":0.85,"y":20.6},{"x":0.95,"y":19.1},
{"x":1.05,"y":19.9},{"x":1.15,"y":18.8},{"x":1.25,"y":20.2},{"x":1.35,"y":19.5},{"x":1.45,"y":20.0},{"x":1.55,"y":18.9},{"x":1.65,"y":19.7},{"x":1.75,"y":19.3},{"x":1.85,"y":20.4},{"x":1.95,"y":19.0},
{"x":2.05,"y":18.5},{"x":2.15,"y":19.6},{"x":2.25,"y":19.2},{"x":2.35,"y":20.1},{"x":2.45,"y":18.8},{"x":2.55,"y":19.4},{"x":2.65,"y":19.9},{"x":2.75,"y":18.6},{"x":2.85,"y":19.3},{"x":2.95,"y":20.3},
{"x":3.05,"y":19.0},{"x":3.15,"y":18.7},{"x":3.25,"y":19.5},{"x":3.35,"y":19.1},{"x":3.45,"y":20.2},{"x":3.55,"y":18.9},{"x":3.65,"y":19.6},{"x":3.75,"y":20.5},{"x":3.85,"y":19.2},{"x":3.95,"y":18.4},
{"x":4.05,"y":20.4},{"x":4.15,"y":19.1},{"x":4.25,"y":19.7},{"x":4.35,"y":18.8},{"x":4.45,"y":19.3},{"x":4.55,"y":18.5},{"x":4.65,"y":19.0},{"x":4.75,"y":19.4},{"x":4.85,"y":18.3},{"x":4.95,"y":18.9},
{"x":5.05,"y":19.2},{"x":5.15,"y":18.7},{"x":5.25,"y":19.5},{"x":5.35,"y":19.0},{"x":5.45,"y":18.6},{"x":5.55,"y":19.3},{"x":5.65,"y":19.8},{"x":5.75,"y":18.9},{"x":5.85,"y":20.3},{"x":5.95,"y":19.4},
{"x":6.05,"y":19.0},{"x":6.15,"y":19.6},{"x":6.25,"y":18.8},{"x":6.35,"y":20.1},{"x":6.45,"y":19.2},{"x":6.55,"y":18.7},{"x":6.65,"y":19.9},{"x":6.75,"y":19.4},{"x":6.85,"y":20.6},{"x":6.95,"y":19.0},
{"x":7.05,"y":17.6},{"x":7.15,"y":18.6},{"x":7.25,"y":19.1},{"x":7.35,"y":18.4},{"x":7.45,"y":19.3},{"x":7.55,"y":18.9},{"x":7.65,"y":19.6},{"x":7.75,"y":19.0},{"x":7.85,"y":18.7},{"x":7.95,"y":19.2},
{"x":8.05,"y":20.9},{"x":8.15,"y":19.8},{"x":8.25,"y":19.3},{"x":8.35,"y":20.1},{"x":8.45,"y":18.8},{"x":8.55,"y":19.5},{"x":8.65,"y":19.0},{"x":8.75,"y":19.7},{"x":8.85,"y":18.9},{"x":8.95,"y":19.3},
{"x":9.05,"y":19.6},{"x":9.15,"y":18.8},{"x":9.25,"y":19.2},{"x":9.35,"y":20.0},{"x":9.45,"y":18.9},{"x":9.55,"y":19.4},{"x":9.65,"y":19.0},{"x":9.75,"y":18.7},{"x":9.85,"y":19.3},{"x":9.95,"y":19.1},
{"x":0.1,"y":20.1},{"x":0.2,"y":19.5},{"x":0.3,"y":18.8},{"x":0.4,"y":20.4},{"x":0.5,"y":19.7},{"x":0.6,"y":19.2},{"x":0.7,"y":20.5},{"x":0.8,"y":19.0},{"x":0.9,"y":19.8},{"x":1.0,"y":20.2},
{"x":1.1,"y":19.3},{"x":1.2,"y":20.6},{"x":1.3,"y":19.1},{"x":1.4,"y":19.8},{"x":1.5,"y":18.7},{"x":1.6,"y":20.3},{"x":1.7,"y":19.5},{"x":1.8,"y":19.9},{"x":1.9,"y":18.9},{"x":2.0,"y":19.6},
{"x":2.1,"y":19.9},{"x":2.2,"y":18.8},{"x":2.3,"y":20.0},{"x":2.4,"y":19.3},{"x":2.5,"y":19.7},{"x":2.6,"y":18.9},{"x":2.7,"y":20.2},{"x":2.8,"y":19.2},{"x":2.9,"y":19.6},{"x":3.0,"y":18.7},
{"x":3.1,"y":19.4},{"x":3.2,"y":20.0},{"x":3.3,"y":18.9},{"x":3.4,"y":19.7},{"x":3.5,"y":19.2},{"x":3.6,"y":20.1},{"x":3.7,"y":18.7},{"x":3.8,"y":19.5},{"x":3.9,"y":19.9},{"x":4.0,"y":19.1},
{"x":4.1,"y":18.9},{"x":4.2,"y":19.6},{"x":4.3,"y":19.2},{"x":4.4,"y":18.6},{"x":4.5,"y":19.9},{"x":4.6,"y":19.1},{"x":4.7,"y":18.8},{"x":4.8,"y":19.5},{"x":4.9,"y":19.0},{"x":5.0,"y":18.6},
{"x":5.1,"y":19.5},{"x":5.2,"y":19.0},{"x":5.3,"y":18.8},{"x":5.4,"y":19.6},{"x":5.5,"y":19.3},{"x":5.6,"y":18.9},{"x":5.7,"y":20.0},{"x":5.8,"y":19.2},{"x":5.9,"y":19.7},{"x":6.0,"y":18.8},
{"x":6.1,"y":19.6},{"x":6.2,"y":18.9},{"x":6.3,"y":20.2},{"x":6.4,"y":19.3},{"x":6.5,"y":19.8},{"x":6.6,"y":19.1},{"x":6.7,"y":20.4},{"x":6.8,"y":19.0},{"x":6.9,"y":19.5},{"x":7.0,"y":18.8},
{"x":7.1,"y":18.9},{"x":7.2,"y":19.3},{"x":7.3,"y":18.7},{"x":7.4,"y":19.5},{"x":7.5,"y":18.8},{"x":7.6,"y":19.2},{"x":7.7,"y":19.0},{"x":7.8,"y":18.6},{"x":7.9,"y":19.4},{"x":8.0,"y":19.7},
{"x":8.1,"y":19.5},{"x":8.2,"y":20.2},{"x":8.3,"y":19.0},{"x":8.4,"y":19.4},{"x":8.5,"y":19.9},{"x":8.6,"y":18.9},{"x":8.7,"y":19.6},{"x":8.8,"y":19.2},{"x":8.9,"y":18.8},{"x":9.0,"y":19.5},
{"x":9.1,"y":19.0},{"x":9.2,"y":19.4},{"x":9.3,"y":18.8},{"x":9.4,"y":19.2},{"x":9.5,"y":19.6},{"x":9.6,"y":18.9},{"x":9.7,"y":19.3},{"x":9.8,"y":19.1},{"x":9.9,"y":18.8},{"x":10.0,"y":19.2}],
"a7b": [{"x":0,"y":12.7},
{"x":0.05,"y":11.9},{"x":0.15,"y":11.2},{"x":0.25,"y":12.3},{"x":0.35,"y":10.9},{"x":0.45,"y":11.6},{"x":0.55,"y":12.0},{"x":0.65,"y":10.6},{"x":0.75,"y":11.4},{"x":0.85,"y":12.5},{"x":0.95,"y":11.1},
{"x":1.05,"y":11.8},{"x":1.15,"y":10.3},{"x":1.25,"y":12.1},{"x":1.35,"y":11.5},{"x":1.45,"y":12.2},{"x":1.55,"y":10.9},{"x":1.65,"y":11.7},{"x":1.75,"y":11.3},{"x":1.85,"y":12.4},{"x":1.95,"y":11.0},
{"x":2.05,"y":10.6},{"x":2.15,"y":11.6},{"x":2.25,"y":11.2},{"x":2.35,"y":12.0},{"x":2.45,"y":10.8},{"x":2.55,"y":11.4},{"x":2.65,"y":11.9},{"x":2.75,"y":10.5},{"x":2.85,"y":11.3},{"x":2.95,"y":12.2},
{"x":3.05,"y":11.0},{"x":3.15,"y":10.7},{"x":3.25,"y":11.5},{"x":3.35,"y":11.1},{"x":3.45,"y":12.1},{"x":3.55,"y":10.9},{"x":3.65,"y":11.6},{"x":3.75,"y":12.6},{"x":3.85,"y":11.2},{"x":3.95,"y":10.5},
{"x":4.05,"y":12.8},{"x":4.15,"y":11.1},{"x":4.25,"y":11.7},{"x":4.35,"y":10.8},{"x":4.45,"y":11.3},{"x":4.55,"y":10.6},{"x":4.65,"y":11.0},{"x":4.75,"y":11.4},{"x":4.85,"y":10.5},{"x":4.95,"y":10.9},
{"x":5.05,"y":11.2},{"x":5.15,"y":10.7},{"x":5.25,"y":11.5},{"x":5.35,"y":11.0},{"x":5.45,"y":10.6},{"x":5.55,"y":11.3},{"x":5.65,"y":11.8},{"x":5.75,"y":10.9},{"x":5.85,"y":12.2},{"x":5.95,"y":11.4},
{"x":6.05,"y":11.0},{"x":6.15,"y":11.6},{"x":6.25,"y":10.8},{"x":6.35,"y":12.0},{"x":6.45,"y":11.2},{"x":6.55,"y":10.7},{"x":6.65,"y":12.5},{"x":6.75,"y":11.4},{"x":6.85,"y":12.1},{"x":6.95,"y":11.0},
{"x":7.05,"y":9.8},{"x":7.15,"y":10.6},{"x":7.25,"y":11.1},{"x":7.35,"y":10.4},{"x":7.45,"y":11.3},{"x":7.55,"y":10.9},{"x":7.65,"y":11.6},{"x":7.75,"y":11.0},{"x":7.85,"y":10.7},{"x":7.95,"y":11.2},
{"x":8.05,"y":13.3},{"x":8.15,"y":11.8},{"x":8.25,"y":11.3},{"x":8.35,"y":12.1},{"x":8.45,"y":10.8},{"x":8.55,"y":11.5},{"x":8.65,"y":11.0},{"x":8.75,"y":11.7},{"x":8.85,"y":10.9},{"x":8.95,"y":11.3},
{"x":9.05,"y":11.6},{"x":9.15,"y":10.8},{"x":9.25,"y":11.2},{"x":9.35,"y":11.9},{"x":9.45,"y":10.9},{"x":9.55,"y":11.4},{"x":9.65,"y":11.0},{"x":9.75,"y":10.7},{"x":9.85,"y":11.3},{"x":9.95,"y":11.1},
{"x":0.1,"y":12.1},{"x":0.2,"y":11.5},{"x":0.3,"y":10.8},{"x":0.4,"y":12.4},{"x":0.5,"y":11.7},{"x":0.6,"y":11.2},{"x":0.7,"y":12.6},{"x":0.8,"y":11.0},{"x":0.9,"y":11.8},{"x":1.0,"y":12.2},
{"x":1.1,"y":11.3},{"x":1.2,"y":12.6},{"x":1.3,"y":11.1},{"x":1.4,"y":11.8},{"x":1.5,"y":10.7},{"x":1.6,"y":12.3},{"x":1.7,"y":11.5},{"x":1.8,"y":11.9},{"x":1.9,"y":10.9},{"x":2.0,"y":11.6},
{"x":2.1,"y":11.9},{"x":2.2,"y":10.8},{"x":2.3,"y":12.0},{"x":2.4,"y":11.3},{"x":2.5,"y":11.7},{"x":2.6,"y":10.9},{"x":2.7,"y":12.2},{"x":2.8,"y":11.2},{"x":2.9,"y":11.6},{"x":3.0,"y":10.7},
{"x":3.1,"y":11.4},{"x":3.2,"y":12.0},{"x":3.3,"y":10.9},{"x":3.4,"y":11.7},{"x":3.5,"y":11.2},{"x":3.6,"y":12.1},{"x":3.7,"y":10.7},{"x":3.8,"y":11.5},{"x":3.9,"y":11.9},{"x":4.0,"y":11.1},
{"x":4.1,"y":10.9},{"x":4.2,"y":11.6},{"x":4.3,"y":11.2},{"x":4.4,"y":10.6},{"x":4.5,"y":11.9},{"x":4.6,"y":11.1},{"x":4.7,"y":10.8},{"x":4.8,"y":11.5},{"x":4.9,"y":11.0},{"x":5.0,"y":10.6},
{"x":5.1,"y":11.5},{"x":5.2,"y":11.0},{"x":5.3,"y":10.8},{"x":5.4,"y":11.6},{"x":5.5,"y":11.3},{"x":5.6,"y":10.9},{"x":5.7,"y":12.0},{"x":5.8,"y":11.2},{"x":5.9,"y":11.7},{"x":6.0,"y":10.8},
{"x":6.1,"y":11.6},{"x":6.2,"y":10.9},{"x":6.3,"y":12.2},{"x":6.4,"y":11.3},{"x":6.5,"y":11.8},{"x":6.6,"y":11.1},{"x":6.7,"y":12.4},{"x":6.8,"y":11.0},{"x":6.9,"y":11.5},{"x":7.0,"y":10.8},
{"x":7.1,"y":10.9},{"x":7.2,"y":11.3},{"x":7.3,"y":10.7},{"x":7.4,"y":11.5},{"x":7.5,"y":10.8},{"x":7.6,"y":11.2},{"x":7.7,"y":11.0},{"x":7.8,"y":10.6},{"x":7.9,"y":11.4},{"x":8.0,"y":11.7},
{"x":8.1,"y":11.5},{"x":8.2,"y":12.2},{"x":8.3,"y":11.0},{"x":8.4,"y":11.4},{"x":8.5,"y":11.9},{"x":8.6,"y":10.9},{"x":8.7,"y":11.6},{"x":8.8,"y":11.2},{"x":8.9,"y":10.8},{"x":9.0,"y":11.5},
{"x":9.1,"y":11.0},{"x":9.2,"y":11.4},{"x":9.3,"y":10.8},{"x":9.4,"y":11.2},{"x":9.5,"y":11.6},{"x":9.6,"y":10.9},{"x":9.7,"y":11.3},{"x":9.8,"y":11.1},{"x":9.9,"y":10.8},{"x":10.0,"y":11.2}],
"b7t": [{"x":0,"y":28.45},
{"x":0.05,"y":20.9},{"x":0.15,"y":21.2},{"x":0.25,"y":20.3},{"x":0.35,"y":20.6},{"x":0.45,"y":19.8},{"x":0.55,"y":20.0},{"x":0.65,"y":19.4},{"x":0.75,"y":20.3},{"x":0.85,"y":19.1},{"x":0.95,"y":19.7},
{"x":1.05,"y":20.0},{"x":1.15,"y":18.8},{"x":1.25,"y":19.6},{"x":1.35,"y":20.4},{"x":1.45,"y":19.2},{"x":1.55,"y":18.7},{"x":1.65,"y":19.8},{"x":1.75,"y":20.5},{"x":1.85,"y":19.0},{"x":1.95,"y":19.4},
{"x":2.05,"y":18.9},{"x":2.15,"y":19.6},{"x":2.25,"y":20.3},{"x":2.35,"y":19.1},{"x":2.45,"y":18.6},{"x":2.55,"y":19.7},{"x":2.65,"y":19.3},{"x":2.75,"y":20.2},{"x":2.85,"y":18.9},{"x":2.95,"y":19.4},
{"x":3.05,"y":19.0},{"x":3.15,"y":19.5},{"x":3.25,"y":18.8},{"x":3.35,"y":19.3},{"x":3.45,"y":19.6},{"x":3.55,"y":18.9},{"x":3.65,"y":19.2},{"x":3.75,"y":19.8},{"x":3.85,"y":19.0},{"x":3.95,"y":19.4},
{"x":4.05,"y":20.1},{"x":4.15,"y":19.5},{"x":4.25,"y":20.6},{"x":4.35,"y":19.2},{"x":4.45,"y":18.8},{"x":4.55,"y":19.6},{"x":4.65,"y":20.3},{"x":4.75,"y":19.0},{"x":4.85,"y":19.4},{"x":4.95,"y":18.7},
{"x":5.05,"y":19.1},{"x":5.15,"y":19.5},{"x":5.25,"y":18.9},{"x":5.35,"y":19.7},{"x":5.45,"y":19.2},{"x":5.55,"y":18.5},{"x":5.65,"y":19.6},{"x":5.75,"y":20.0},{"x":5.85,"y":19.3},{"x":5.95,"y":18.9},
{"x":6.05,"y":19.5},{"x":6.15,"y":20.4},{"x":6.25,"y":19.1},{"x":6.35,"y":19.8},{"x":6.45,"y":20.2},{"x":6.55,"y":18.8},{"x":6.65,"y":19.4},{"x":6.75,"y":20.6},{"x":6.85,"y":19.0},{"x":6.95,"y":19.3},
{"x":7.05,"y":20.2},{"x":7.15,"y":18.7},{"x":7.25,"y":19.5},{"x":7.35,"y":19.1},{"x":7.45,"y":18.9},{"x":7.55,"y":19.3},{"x":7.65,"y":19.0},{"x":7.75,"y":18.6},{"x":7.85,"y":19.2},{"x":7.95,"y":18.8},
{"x":8.05,"y":19.4},{"x":8.15,"y":18.9},{"x":8.25,"y":19.1},{"x":8.35,"y":20.5},{"x":8.45,"y":18.7},{"x":8.55,"y":20.9},{"x":8.65,"y":19.0},{"x":8.75,"y":18.8},{"x":8.85,"y":19.2},{"x":8.95,"y":18.6},
{"x":9.05,"y":18.9},{"x":9.15,"y":19.1},{"x":9.25,"y":18.5},{"x":9.35,"y":19.3},{"x":9.45,"y":20.4},{"x":9.55,"y":18.8},{"x":9.65,"y":19.2},{"x":9.75,"y":19.6},{"x":9.85,"y":18.9},{"x":9.95,"y":19.1},
{"x":0.1,"y":21.0},{"x":0.2,"y":20.6},{"x":0.3,"y":20.8},{"x":0.4,"y":19.9},{"x":0.5,"y":20.1},{"x":0.6,"y":19.6},{"x":0.7,"y":20.4},{"x":0.8,"y":19.3},{"x":0.9,"y":19.9},{"x":1.0,"y":19.5},
{"x":1.1,"y":20.3},{"x":1.2,"y":19.2},{"x":1.3,"y":19.9},{"x":1.4,"y":18.9},{"x":1.5,"y":20.1},{"x":1.6,"y":19.4},{"x":1.7,"y":19.1},{"x":1.8,"y":20.0},{"x":1.9,"y":19.6},{"x":2.0,"y":18.8},
{"x":2.1,"y":19.5},{"x":2.2,"y":20.0},{"x":2.3,"y":19.0},{"x":2.4,"y":19.8},{"x":2.5,"y":19.2},{"x":2.6,"y":18.8},{"x":2.7,"y":19.9},{"x":2.8,"y":19.4},{"x":2.9,"y":19.1},{"x":3.0,"y":19.7},
{"x":3.1,"y":18.9},{"x":3.2,"y":19.6},{"x":3.3,"y":19.2},{"x":3.4,"y":19.9},{"x":3.5,"y":18.8},{"x":3.6,"y":19.4},{"x":3.7,"y":19.0},{"x":3.8,"y":19.5},{"x":3.9,"y":18.7},{"x":4.0,"y":19.3},
{"x":4.1,"y":19.8},{"x":4.2,"y":19.0},{"x":4.3,"y":20.2},{"x":4.4,"y":19.4},{"x":4.5,"y":19.9},{"x":4.6,"y":18.9},{"x":4.7,"y":19.6},{"x":4.8,"y":19.2},{"x":4.9,"y":18.8},{"x":5.0,"y":19.5},
{"x":5.1,"y":19.3},{"x":5.2,"y":18.9},{"x":5.3,"y":19.8},{"x":5.4,"y":19.1},{"x":5.5,"y":19.5},{"x":5.6,"y":19.0},{"x":5.7,"y":18.7},{"x":5.8,"y":19.4},{"x":5.9,"y":19.8},{"x":6.0,"y":19.1},
{"x":6.1,"y":19.9},{"x":6.2,"y":19.2},{"x":6.3,"y":20.1},{"x":6.4,"y":18.9},{"x":6.5,"y":19.6},{"x":6.6,"y":19.3},{"x":6.7,"y":20.0},{"x":6.8,"y":19.1},{"x":6.9,"y":19.5},{"x":7.0,"y":18.8},
{"x":7.1,"y":19.4},{"x":7.2,"y":19.0},{"x":7.3,"y":18.8},{"x":7.4,"y":19.6},{"x":7.5,"y":19.2},{"x":7.6,"y":18.7},{"x":7.7,"y":19.3},{"x":7.8,"y":18.9},{"x":7.9,"y":19.1},{"x":8.0,"y":18.6},
{"x":8.1,"y":19.0},{"x":8.2,"y":19.3},{"x":8.3,"y":18.7},{"x":8.4,"y":20.0},{"x":8.5,"y":19.1},{"x":8.6,"y":19.4},{"x":8.7,"y":18.8},{"x":8.8,"y":19.2},{"x":8.9,"y":18.9},{"x":9.0,"y":18.7},
{"x":9.1,"y":19.2},{"x":9.2,"y":18.8},{"x":9.3,"y":19.4},{"x":9.4,"y":18.9},{"x":9.5,"y":19.5},{"x":9.6,"y":19.0},{"x":9.7,"y":18.7},{"x":9.8,"y":19.3},{"x":9.9,"y":19.0},{"x":10.0,"y":18.9}],
"b7b": [{"x":0,"y":23.7},
{"x":0.05,"y":12.8},{"x":0.15,"y":13.3},{"x":0.25,"y":12.2},{"x":0.35,"y":12.5},{"x":0.45,"y":11.8},{"x":0.55,"y":12.0},{"x":0.65,"y":11.4},{"x":0.75,"y":12.3},{"x":0.85,"y":11.1},{"x":0.95,"y":11.7},
{"x":1.05,"y":12.0},{"x":1.15,"y":10.8},{"x":1.25,"y":11.6},{"x":1.35,"y":12.4},{"x":1.45,"y":11.2},{"x":1.55,"y":10.7},{"x":1.65,"y":11.8},{"x":1.75,"y":12.5},{"x":1.85,"y":11.0},{"x":1.95,"y":11.4},
{"x":2.05,"y":10.9},{"x":2.15,"y":11.6},{"x":2.25,"y":12.3},{"x":2.35,"y":11.1},{"x":2.45,"y":10.6},{"x":2.55,"y":11.7},{"x":2.65,"y":11.3},{"x":2.75,"y":12.2},{"x":2.85,"y":10.9},{"x":2.95,"y":11.4},
{"x":3.05,"y":11.0},{"x":3.15,"y":11.5},{"x":3.25,"y":10.8},{"x":3.35,"y":11.3},{"x":3.45,"y":11.6},{"x":3.55,"y":10.9},{"x":3.65,"y":11.2},{"x":3.75,"y":11.8},{"x":3.85,"y":11.0},{"x":3.95,"y":10.4},
{"x":4.05,"y":12.1},{"x":4.15,"y":11.5},{"x":4.25,"y":12.6},{"x":4.35,"y":11.2},{"x":4.45,"y":10.8},{"x":4.55,"y":11.6},{"x":4.65,"y":12.3},{"x":4.75,"y":11.0},{"x":4.85,"y":11.4},{"x":4.95,"y":10.7},
{"x":5.05,"y":11.1},{"x":5.15,"y":11.5},{"x":5.25,"y":10.9},{"x":5.35,"y":11.7},{"x":5.45,"y":11.2},{"x":5.55,"y":10.5},{"x":5.65,"y":11.6},{"x":5.75,"y":12.0},{"x":5.85,"y":11.3},{"x":5.95,"y":10.9},
{"x":6.05,"y":11.5},{"x":6.15,"y":12.4},{"x":6.25,"y":11.1},{"x":6.35,"y":11.8},{"x":6.45,"y":12.2},{"x":6.55,"y":10.8},{"x":6.65,"y":11.4},{"x":6.75,"y":12.6},{"x":6.85,"y":11.0},{"x":6.95,"y":11.3},
{"x":7.05,"y":12.2},{"x":7.15,"y":10.7},{"x":7.25,"y":11.5},{"x":7.35,"y":11.1},{"x":7.45,"y":10.9},{"x":7.55,"y":11.3},{"x":7.65,"y":11.0},{"x":7.75,"y":10.6},{"x":7.85,"y":11.2},{"x":7.95,"y":10.8},
{"x":8.05,"y":11.4},{"x":8.15,"y":12.6},{"x":8.25,"y":11.1},{"x":8.35,"y":11.9},{"x":8.45,"y":12.9},{"x":8.55,"y":11.2},{"x":8.65,"y":11.0},{"x":8.75,"y":10.8},{"x":8.85,"y":11.2},{"x":8.95,"y":10.6},
{"x":9.05,"y":10.9},{"x":9.15,"y":11.1},{"x":9.25,"y":10.3},{"x":9.35,"y":11.3},{"x":9.45,"y":12.4},{"x":9.55,"y":10.8},{"x":9.65,"y":11.2},{"x":9.75,"y":11.6},{"x":9.85,"y":10.9},{"x":9.95,"y":11.1},
{"x":0.1,"y":13.0},{"x":0.2,"y":12.6},{"x":0.3,"y":12.8},{"x":0.4,"y":11.9},{"x":0.5,"y":12.1},{"x":0.6,"y":11.6},{"x":0.7,"y":12.4},{"x":0.8,"y":11.3},{"x":0.9,"y":11.9},{"x":1.0,"y":11.5},
{"x":1.1,"y":12.3},{"x":1.2,"y":11.2},{"x":1.3,"y":11.9},{"x":1.4,"y":10.9},{"x":1.5,"y":12.1},{"x":1.6,"y":11.4},{"x":1.7,"y":11.1},{"x":1.8,"y":12.0},{"x":1.9,"y":11.6},{"x":2.0,"y":10.8},
{"x":2.1,"y":11.5},{"x":2.2,"y":12.0},{"x":2.3,"y":11.0},{"x":2.4,"y":11.8},{"x":2.5,"y":11.2},{"x":2.6,"y":10.8},{"x":2.7,"y":11.9},{"x":2.8,"y":11.4},{"x":2.9,"y":11.1},{"x":3.0,"y":11.7},
{"x":3.1,"y":10.9},{"x":3.2,"y":11.6},{"x":3.3,"y":11.2},{"x":3.4,"y":11.9},{"x":3.5,"y":10.8},{"x":3.6,"y":11.4},{"x":3.7,"y":11.0},{"x":3.8,"y":11.5},{"x":3.9,"y":10.7},{"x":4.0,"y":11.3},
{"x":4.1,"y":11.8},{"x":4.2,"y":11.0},{"x":4.3,"y":12.2},{"x":4.4,"y":11.4},{"x":4.5,"y":11.9},{"x":4.6,"y":10.9},{"x":4.7,"y":11.6},{"x":4.8,"y":11.2},{"x":4.9,"y":10.8},{"x":5.0,"y":11.5},
{"x":5.1,"y":11.3},{"x":5.2,"y":10.9},{"x":5.3,"y":11.8},{"x":5.4,"y":11.1},{"x":5.5,"y":11.5},{"x":5.6,"y":11.0},{"x":5.7,"y":10.7},{"x":5.8,"y":11.4},{"x":5.9,"y":11.8},{"x":6.0,"y":11.1},
{"x":6.1,"y":11.9},{"x":6.2,"y":11.2},{"x":6.3,"y":12.1},{"x":6.4,"y":10.9},{"x":6.5,"y":11.6},{"x":6.6,"y":11.3},{"x":6.7,"y":12.0},{"x":6.8,"y":11.1},{"x":6.9,"y":11.5},{"x":7.0,"y":10.8},
{"x":7.1,"y":11.4},{"x":7.2,"y":11.0},{"x":7.3,"y":10.8},{"x":7.4,"y":11.6},{"x":7.5,"y":11.2},{"x":7.6,"y":10.7},{"x":7.7,"y":11.3},{"x":7.8,"y":10.9},{"x":7.9,"y":11.1},{"x":8.0,"y":10.6},
{"x":8.1,"y":11.0},{"x":8.2,"y":11.3},{"x":8.3,"y":10.7},{"x":8.4,"y":12.0},{"x":8.5,"y":11.1},{"x":8.6,"y":11.4},{"x":8.7,"y":10.8},{"x":8.8,"y":11.2},{"x":8.9,"y":10.9},{"x":9.0,"y":10.7},
{"x":9.1,"y":11.2},{"x":9.2,"y":10.8},{"x":9.3,"y":11.4},{"x":9.4,"y":10.9},{"x":9.5,"y":11.5},{"x":9.6,"y":11.0},{"x":9.7,"y":10.7},{"x":9.8,"y":11.3},{"x":9.9,"y":11.0},{"x":10.0,"y":10.9}],
"a4l": [{"t":14.93,"m":15.0,"lo":14.79,"hi":15.28},{"t":8.22,"m":8.28,"lo":7.97,"hi":8.56}],
"b4l": [{"t":15.05,"m":15.02,"lo":14.74,"hi":15.28},{"t":8.34,"m":8.22,"lo":7.92,"hi":8.56}],
"a7l": [{"t":19.06,"m":19.22,"lo":18.64,"hi":19.8},{"t":11.36,"m":11.46,"lo":10.87,"hi":12.1}],
"b7l": [{"t":19.16,"m":19.16,"lo":18.64,"hi":19.71},{"t":11.46,"m":11.36,"lo":10.87,"hi":11.84}]
},
"concat": [
{"width": 371, "height": 194, "layer": [
 {"data": {"name": "ca"}, "mark": {"type": "point", "shape": "cross", "filled": true, "size": 75, "color": "black", "opacity": 1},
  "encoding": {"x": {"field": "x", "type": "quantitative", "scale": {"domain": [-0.41, 10.41], "nice": false, "zero": false}, "axis": {"values": [0,2,4,6,8,10], "labels": false, "title": null}},
   "y": {"field": "y", "type": "quantitative", "scale": {"type": "log", "domain": [242, 1274], "nice": false}, "axis": {"orient": "left", "values": [300,400,500,600,700,800,900,1000], "labelExpr": "(datum.value == 600 || datum.value == 800 || datum.value == 1000) ? '' : format(datum.value, 'd')", "title": null}}}},
 {"data": {"values": [{"t": "Assimilation A:"}]}, "mark": {"type": "text", "align": "left", "baseline": "alphabetic", "fontSize": 22, "color": "black"},
  "encoding": {"x": {"datum": 1.63, "type": "quantitative"}, "y": {"datum": 900, "type": "quantitative"}, "text": {"field": "t"}}},
 {"data": {"values": [{"t": "Cost"}]}, "mark": {"type": "text", "align": "left", "baseline": "alphabetic", "fontSize": 22, "color": "black"},
  "encoding": {"x": {"datum": 6.97, "type": "quantitative"}, "y": {"datum": 900, "type": "quantitative"}, "text": {"field": "t"}}}
]},
{"width": 371, "height": 194, "layer": [
 {"data": {"name": "cb"}, "mark": {"type": "point", "shape": "cross", "filled": true, "size": 75, "color": "black", "opacity": 1},
  "encoding": {"x": {"field": "x", "type": "quantitative", "scale": {"domain": [-0.41, 10.41], "nice": false, "zero": false}, "axis": {"values": [0,2,4,6,8,10], "labels": false, "title": null}},
   "y": {"field": "y", "type": "quantitative", "scale": {"type": "log", "domain": [242, 1274], "nice": false}, "axis": {"orient": "right", "values": [300,400,500,600,700,800,900,1000], "labelExpr": "(datum.value == 600 || datum.value == 800 || datum.value == 1000) ? '' : format(datum.value, 'd')", "title": null}}}},
 {"data": {"values": [{"t": "Assimilation B:"}]}, "mark": {"type": "text", "align": "left", "baseline": "alphabetic", "fontSize": 22, "color": "black"},
  "encoding": {"x": {"datum": 1.62, "type": "quantitative"}, "y": {"datum": 900, "type": "quantitative"}, "text": {"field": "t"}}},
 {"data": {"values": [{"t": "Cost"}]}, "mark": {"type": "text", "align": "left", "baseline": "alphabetic", "fontSize": 22, "color": "black"},
  "encoding": {"x": {"datum": 6.97, "type": "quantitative"}, "y": {"datum": 900, "type": "quantitative"}, "text": {"field": "t"}}}
]},
{"width": 371, "height": 231, "layer": [
 {"data": {"name": "a4t"}, "mark": {"type": "point", "shape": "cross", "filled": true, "size": 65, "color": "black", "opacity": 1},
  "encoding": {"x": {"field": "x", "type": "quantitative", "scale": {"domain": [-0.41, 10.41], "nice": false, "zero": false}, "axis": {"values": [0,2,4,6,8,10], "labels": false, "title": null}},
   "y": {"field": "y", "type": "quantitative", "scale": {"domain": [5.64, 22.06], "nice": false, "zero": false}, "axis": {"orient": "left", "values": [10,15,20], "title": "μM"}}}},
 {"data": {"name": "a4l"}, "mark": {"type": "rule", "strokeDash": [2,2], "strokeWidth": 1, "color": "black"}, "encoding": {"y": {"field": "t", "type": "quantitative"}}},
 {"data": {"name": "a4b"}, "mark": {"type": "point", "shape": "square", "filled": true, "size": 48, "color": "black", "opacity": 1},
  "encoding": {"x": {"field": "x", "type": "quantitative"}, "y": {"field": "y", "type": "quantitative"}}},
 {"data": {"name": "a4l"}, "mark": {"type": "rule", "strokeWidth": 1.5, "color": "black"}, "encoding": {"x": {"datum": 10.05, "type": "quantitative"}, "x2": {"datum": 10.41}, "y": {"field": "m", "type": "quantitative"}}},
 {"data": {"name": "a4l"}, "mark": {"type": "rule", "strokeDash": [2,2], "strokeWidth": 1, "color": "black"}, "encoding": {"x": {"datum": 10.05, "type": "quantitative"}, "x2": {"datum": 10.41}, "y": {"field": "lo", "type": "quantitative"}}},
 {"data": {"name": "a4l"}, "mark": {"type": "rule", "strokeDash": [2,2], "strokeWidth": 1, "color": "black"}, "encoding": {"x": {"datum": 10.05, "type": "quantitative"}, "x2": {"datum": 10.41}, "y": {"field": "hi", "type": "quantitative"}}},
 {"data": {"values": [{"t": "Assim. A, 400m"}]}, "mark": {"type": "text", "align": "left", "baseline": "alphabetic", "fontSize": 22, "color": "black"},
  "encoding": {"x": {"datum": 0.08, "type": "quantitative"}, "y": {"datum": 20.23, "type": "quantitative"}, "text": {"field": "t"}}},
 {"data": {"values": [{"t": "Total N Regen."}]}, "mark": {"type": "text", "align": "right", "baseline": "alphabetic", "fontSize": 22, "color": "black"},
  "encoding": {"x": {"datum": 10.23, "type": "quantitative"}, "y": {"datum": 16.6, "type": "quantitative"}, "text": {"field": "t"}}},
 {"data": {"values": [{"t": "Bacterial"}]}, "mark": {"type": "text", "align": "right", "baseline": "alphabetic", "fontSize": 22, "color": "black"},
  "encoding": {"x": {"datum": 9.28, "type": "quantitative"}, "y": {"datum": 9.57, "type": "quantitative"}, "text": {"field": "t"}}}
]},
{"width": 371, "height": 231, "layer": [
 {"data": {"name": "b4t"}, "mark": {"type": "point", "shape": "cross", "filled": true, "size": 65, "color": "black", "opacity": 1},
  "encoding": {"x": {"field": "x", "type": "quantitative", "scale": {"domain": [-0.41, 10.41], "nice": false, "zero": false}, "axis": {"values": [0,2,4,6,8,10], "labels": false, "title": null}},
   "y": {"field": "y", "type": "quantitative", "scale": {"domain": [5.64, 22.06], "nice": false, "zero": false}, "axis": {"orient": "right", "values": [10,15,20], "title": "μM"}}}},
 {"data": {"name": "b4l"}, "mark": {"type": "rule", "strokeDash": [2,2], "strokeWidth": 1, "color": "black"}, "encoding": {"y": {"field": "t", "type": "quantitative"}}},
 {"data": {"name": "b4b"}, "mark": {"type": "point", "shape": "square", "filled": true, "size": 48, "color": "black", "opacity": 1},
  "encoding": {"x": {"field": "x", "type": "quantitative"}, "y": {"field": "y", "type": "quantitative"}}},
 {"data": {"name": "b4l"}, "mark": {"type": "rule", "strokeWidth": 1.5, "color": "black"}, "encoding": {"x": {"datum": 10.05, "type": "quantitative"}, "x2": {"datum": 10.41}, "y": {"field": "m", "type": "quantitative"}}},
 {"data": {"name": "b4l"}, "mark": {"type": "rule", "strokeDash": [2,2], "strokeWidth": 1, "color": "black"}, "encoding": {"x": {"datum": 10.05, "type": "quantitative"}, "x2": {"datum": 10.41}, "y": {"field": "lo", "type": "quantitative"}}},
 {"data": {"name": "b4l"}, "mark": {"type": "rule", "strokeDash": [2,2], "strokeWidth": 1, "color": "black"}, "encoding": {"x": {"datum": 10.05, "type": "quantitative"}, "x2": {"datum": 10.41}, "y": {"field": "hi", "type": "quantitative"}}},
 {"data": {"values": [{"t": "Assim. B, 400m"}]}, "mark": {"type": "text", "align": "left", "baseline": "alphabetic", "fontSize": 22, "color": "black"},
  "encoding": {"x": {"datum": 0.1, "type": "quantitative"}, "y": {"datum": 20.23, "type": "quantitative"}, "text": {"field": "t"}}},
 {"data": {"values": [{"t": "Total N Regen."}]}, "mark": {"type": "text", "align": "right", "baseline": "alphabetic", "fontSize": 22, "color": "black"},
  "encoding": {"x": {"datum": 10.22, "type": "quantitative"}, "y": {"datum": 16.6, "type": "quantitative"}, "text": {"field": "t"}}},
 {"data": {"values": [{"t": "Bacterial"}]}, "mark": {"type": "text", "align": "right", "baseline": "alphabetic", "fontSize": 22, "color": "black"},
  "encoding": {"x": {"datum": 9.28, "type": "quantitative"}, "y": {"datum": 9.57, "type": "quantitative"}, "text": {"field": "t"}}}
]},
{"width": 371, "height": 231, "layer": [
 {"data": {"name": "a7t"}, "mark": {"type": "point", "shape": "cross", "filled": true, "size": 65, "color": "black", "opacity": 1},
  "encoding": {"x": {"field": "x", "type": "quantitative", "scale": {"domain": [-0.41, 10.41], "nice": false, "zero": false}, "axis": {"values": [0,2,4,6,8,10], "title": null, "format": "d"}},
   "y": {"field": "y", "type": "quantitative", "scale": {"domain": [8.86, 31.3], "nice": false, "zero": false}, "axis": {"orient": "left", "values": [10,15,20,25,30], "title": "μM"}}}},
 {"data": {"name": "a7l"}, "mark": {"type": "rule", "strokeDash": [2,2], "strokeWidth": 1, "color": "black"}, "encoding": {"y": {"field": "t", "type": "quantitative"}}},
 {"data": {"name": "a7b"}, "mark": {"type": "point", "shape": "square", "filled": true, "size": 48, "color": "black", "opacity": 1},
  "encoding": {"x": {"field": "x", "type": "quantitative"}, "y": {"field": "y", "type": "quantitative"}}},
 {"data": {"name": "a7l"}, "mark": {"type": "rule", "strokeWidth": 1.5, "color": "black"}, "encoding": {"x": {"datum": 10.05, "type": "quantitative"}, "x2": {"datum": 10.41}, "y": {"field": "m", "type": "quantitative"}}},
 {"data": {"name": "a7l"}, "mark": {"type": "rule", "strokeDash": [2,2], "strokeWidth": 1, "color": "black"}, "encoding": {"x": {"datum": 10.05, "type": "quantitative"}, "x2": {"datum": 10.41}, "y": {"field": "lo", "type": "quantitative"}}},
 {"data": {"name": "a7l"}, "mark": {"type": "rule", "strokeDash": [2,2], "strokeWidth": 1, "color": "black"}, "encoding": {"x": {"datum": 10.05, "type": "quantitative"}, "x2": {"datum": 10.41}, "y": {"field": "hi", "type": "quantitative"}}},
 {"data": {"values": [{"t": "Assim. A, 700m"}]}, "mark": {"type": "text", "align": "left", "baseline": "alphabetic", "fontSize": 22, "color": "black"},
  "encoding": {"x": {"datum": 0.08, "type": "quantitative"}, "y": {"datum": 28.77, "type": "quantitative"}, "text": {"field": "t"}}},
 {"data": {"values": [{"t": "Total N Regen."}]}, "mark": {"type": "text", "align": "right", "baseline": "alphabetic", "fontSize": 22, "color": "black"},
  "encoding": {"x": {"datum": 10.23, "type": "quantitative"}, "y": {"datum": 22.46, "type": "quantitative"}, "text": {"field": "t"}}},
 {"data": {"values": [{"t": "Bacterial"}]}, "mark": {"type": "text", "align": "right", "baseline": "alphabetic", "fontSize": 22, "color": "black"},
  "encoding": {"x": {"datum": 9.28, "type": "quantitative"}, "y": {"datum": 14.11, "type": "quantitative"}, "text": {"field": "t"}}}
]},
{"width": 371, "height": 231, "layer": [
 {"data": {"name": "b7t"}, "mark": {"type": "point", "shape": "cross", "filled": true, "size": 65, "color": "black", "opacity": 1},
  "encoding": {"x": {"field": "x", "type": "quantitative", "scale": {"domain": [-0.41, 10.41], "nice": false, "zero": false}, "axis": {"values": [0,2,4,6,8,10], "title": null, "format": "d"}},
   "y": {"field": "y", "type": "quantitative", "scale": {"domain": [8.86, 31.3], "nice": false, "zero": false}, "axis": {"orient": "right", "values": [10,15,20,25,30], "title": "μM"}}}},
 {"data": {"name": "b7l"}, "mark": {"type": "rule", "strokeDash": [2,2], "strokeWidth": 1, "color": "black"}, "encoding": {"y": {"field": "t", "type": "quantitative"}}},
 {"data": {"name": "b7b"}, "mark": {"type": "point", "shape": "square", "filled": true, "size": 48, "color": "black", "opacity": 1},
  "encoding": {"x": {"field": "x", "type": "quantitative"}, "y": {"field": "y", "type": "quantitative"}}},
 {"data": {"name": "b7l"}, "mark": {"type": "rule", "strokeWidth": 1.5, "color": "black"}, "encoding": {"x": {"datum": 10.05, "type": "quantitative"}, "x2": {"datum": 10.41}, "y": {"field": "m", "type": "quantitative"}}},
 {"data": {"name": "b7l"}, "mark": {"type": "rule", "strokeDash": [2,2], "strokeWidth": 1, "color": "black"}, "encoding": {"x": {"datum": 10.05, "type": "quantitative"}, "x2": {"datum": 10.41}, "y": {"field": "lo", "type": "quantitative"}}},
 {"data": {"name": "b7l"}, "mark": {"type": "rule", "strokeDash": [2,2], "strokeWidth": 1, "color": "black"}, "encoding": {"x": {"datum": 10.05, "type": "quantitative"}, "x2": {"datum": 10.41}, "y": {"field": "hi", "type": "quantitative"}}},
 {"data": {"values": [{"t": "Assim. B, 700m"}]}, "mark": {"type": "text", "align": "left", "baseline": "alphabetic", "fontSize": 22, "color": "black"},
  "encoding": {"x": {"datum": 0.1, "type": "quantitative"}, "y": {"datum": 28.77, "type": "quantitative"}, "text": {"field": "t"}}},
 {"data": {"values": [{"t": "Total N Regen."}]}, "mark": {"type": "text", "align": "right", "baseline": "alphabetic", "fontSize": 22, "color": "black"},
  "encoding": {"x": {"datum": 10.22, "type": "quantitative"}, "y": {"datum": 22.46, "type": "quantitative"}, "text": {"field": "t"}}},
 {"data": {"values": [{"t": "Bacterial"}]}, "mark": {"type": "text", "align": "right", "baseline": "alphabetic", "fontSize": 22, "color": "black"},
  "encoding": {"x": {"datum": 9.28, "type": "quantitative"}, "y": {"datum": 14.11, "type": "quantitative"}, "text": {"field": "t"}}}
]}
],
"config": {
 "font": "Liberation Sans",
 "view": {"stroke": "black", "strokeWidth": 2},
 "axis": {"grid": false, "domain": false, "ticks": true, "tickColor": "black", "tickWidth": 1.5, "tickSize": 6, "labelFont": "Liberation Sans", "labelFontSize": 20, "labelColor": "black", "labelFlush": false, "titleFont": "Liberation Sans", "titleFontSize": 22, "titleFontWeight": "normal", "titleColor": "black"},
 "axisLeft": {"labelPadding": 7, "titlePadding": 16},
 "axisRight": {"labelPadding": 3, "titlePadding": 14},
 "axisBottom": {"labelPadding": 5},
 "text": {"font": "Liberation Sans"}
}
}
